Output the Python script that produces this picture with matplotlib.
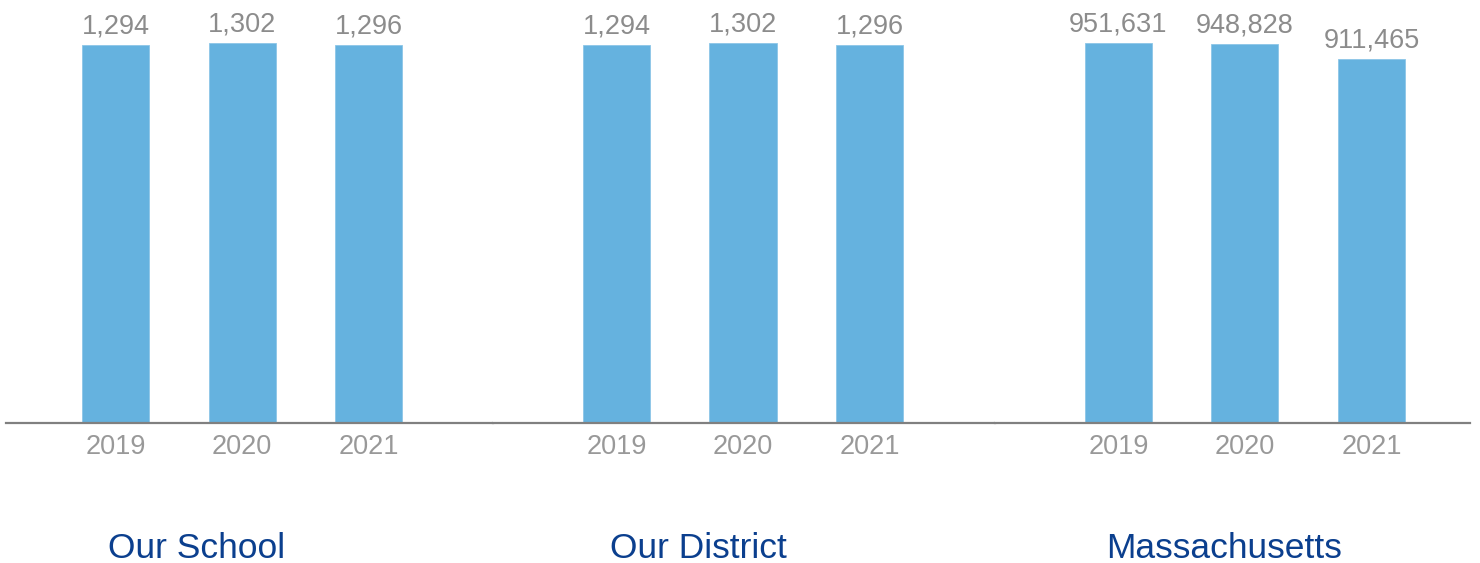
import matplotlib
matplotlib.use("Agg")
import matplotlib.pyplot as plt

years = ["2019", "2020", "2021"]
groups = ["Our School", "Our District", "Massachusetts"]
school = [1294, 1302, 1296]
district = [1294, 1302, 1296]
state = [951631, 948828, 911465]

bar_color = "#65B2DF"
value_color = "#8c8c8c"
tick_color = "#999999"
title_color = "#0B3F8E"
W, H = 1480, 563

plt.rcParams["font.family"] = ["Liberation Sans", "DejaVu Sans"]
fig = plt.figure(figsize=(W / 100, H / 100), dpi=100)

# pixel layout of the three panels: (left, right, x-limits)
panels = [
    (6, 493, (-0.866, 2.984)),
    (493, 995, (-0.976, 2.992)),
    (995, 1470, (-0.976, 2.779)),
]
title_x = [196.5, 698, 1224]
base_y = 423

for (left, right, xlim), values, name, tx in zip(panels, [school, district, state], groups, title_x):
    ax = fig.add_axes([left / W, (H - base_y) / H, (right - left) / W, base_y / H])
    bars = ax.bar(range(len(years)), values, width=0.53, color=bar_color, edgecolor="#8cc6e8", linewidth=0.6)
    ax.set_xlim(*xlim)
    ax.set_ylim(0, max(values) * 423 / 380)
    ax.set_xticks(range(len(years)))
    ax.set_xticklabels(years, fontsize=19.5, color=tick_color)
    ax.tick_params(axis="x", length=0, pad=8)
    ax.set_yticks([])
    for side in ["top", "left", "right"]:
        ax.spines[side].set_visible(False)
    ax.spines["bottom"].set_color("#808080")
    ax.spines["bottom"].set_linewidth(1.6)
    for b, v in zip(bars, values):
        ax.annotate(f"{v:,}", (b.get_x() + b.get_width() / 2, v), xytext=(0, 4),
                    textcoords="offset points", ha="center", va="bottom",
                    fontsize=19.5, color=value_color)
    fig.text(tx / W, (H - 548) / H, name, ha="center", va="center", fontsize=25.5, color=title_color)

fig.savefig("out.png", dpi=100)
